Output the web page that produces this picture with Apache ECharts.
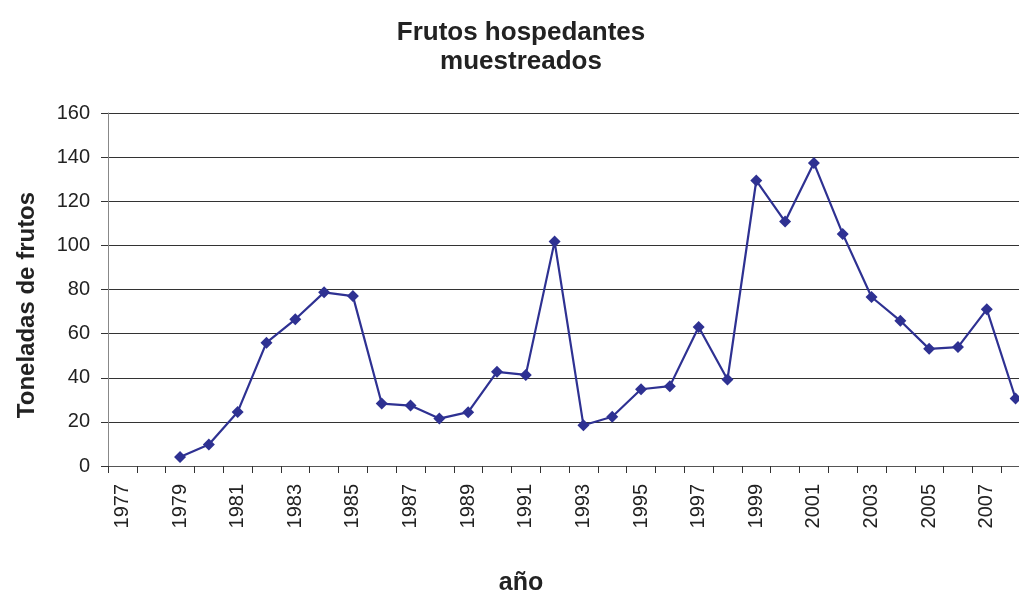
<!DOCTYPE html>
<html>
<head>
<meta charset="utf-8">
<script src="https://cdn.jsdelivr.net/npm/echarts@6/dist/echarts.min.js"></script>
<style>
html,body{margin:0;padding:0;background:#fff;}
#chart{width:1019px;height:590px;}
</style>
</head>
<body>
<div id="chart"></div>
<script>
const years = ['1977','1978','1979','1980','1981','1982','1983','1984','1985','1986','1987','1988','1989','1990','1991','1992','1993','1994','1995','1996','1997','1998','1999','2000','2001','2002','2003','2004','2005','2006','2007','2008'];
const toneladas = [null,null,4.1,9.7,24.5,55.9,66.5,78.7,77.0,28.3,27.4,21.5,24.4,42.7,41.3,101.7,18.5,22.3,34.8,36.2,63.0,39.2,129.4,110.8,137.3,105.2,76.6,65.8,53.1,53.9,71.0,30.6];
const yTicks = [0,20,40,60,80,100,120,140,160];
const titleText = 'Frutos hospedantes\nmuestreados';
const xName = 'año';
const yName = 'Toneladas de frutos';

const chart = echarts.init(document.getElementById('chart'), null, {renderer:'canvas'});
const FONT = '"Liberation Sans", Arial, sans-serif';
chart.setOption({
  animation: false,
  backgroundColor: '#ffffff',
  title: {
    text: titleText,
    left: 516,
    textAlign: 'center',
    top: 13,
    textStyle: {fontFamily: FONT, fontSize: 26, fontWeight: 'bold', color: '#222', lineHeight: 29}
  },
  graphic: [
    {type: 'text', x: 27, y: 305, rotation: Math.PI / 2,
     style: {text: yName, align: 'center', verticalAlign: 'middle', font: 'bold 24px "Liberation Sans", Arial, sans-serif', fill: '#222'}},
    {type: 'text', x: 521, y: 583,
     style: {text: xName, align: 'center', verticalAlign: 'middle', font: 'bold 25px "Liberation Sans", Arial, sans-serif', fill: '#222'}}
  ],
  grid: {left: 108, right: -11, top: 113, bottom: 124, containLabel: false, outerBoundsMode: 'none'},
  xAxis: {
    type: 'category',
    data: years,
    boundaryGap: true,
    axisLine: {lineStyle: {color: '#555', width: 1}},
    axisTick: {show: true, alignWithLabel: false, interval: 0, length: 7, lineStyle: {color: '#333'}},
    axisLabel: {interval: 1, rotate: 90, margin: 18, fontFamily: FONT, fontSize: 20, color: '#222'},
    splitLine: {show: false}
  },
  yAxis: {
    type: 'value',
    min: yTicks[0],
    max: yTicks[yTicks.length - 1],
    interval: 20,
    axisLine: {show: true, lineStyle: {color: '#888', width: 1}},
    axisTick: {show: true, length: 7, lineStyle: {color: '#333'}},
    axisLabel: {margin: 18, fontFamily: FONT, fontSize: 20, color: '#222'},
    splitLine: {show: true, lineStyle: {color: '#333', width: 1}}
  },
  series: [{
    type: 'line',
    data: toneladas,
    connectNulls: false,
    symbol: 'diamond',
    symbolSize: 12,
    showAllSymbol: true,
    lineStyle: {color: '#2e3192', width: 2.2},
    itemStyle: {color: '#2e3192'}
  }]
});
</script>
</body>
</html>
